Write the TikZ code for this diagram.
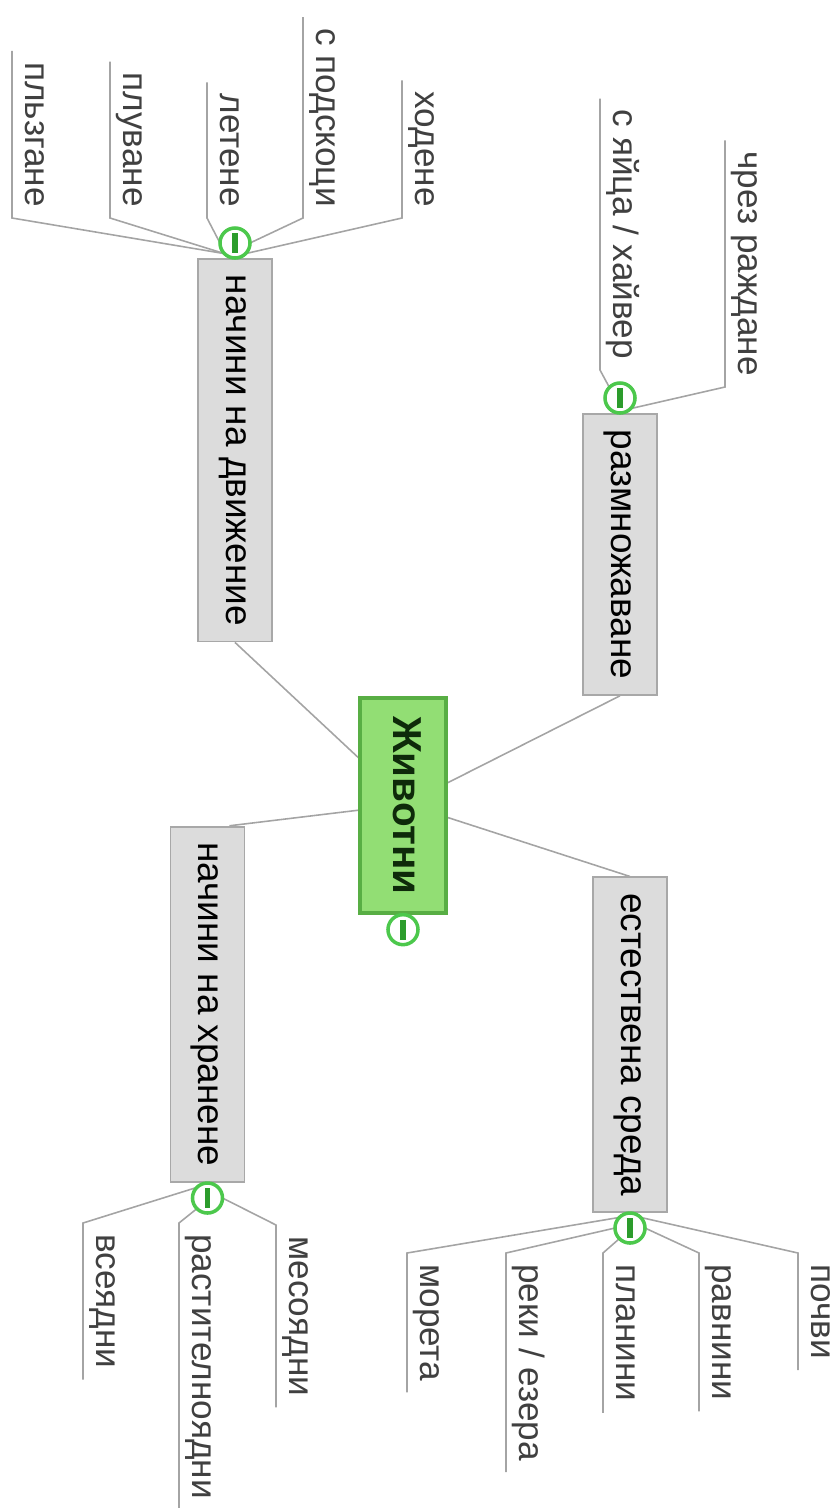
\documentclass[tikz,border=0pt]{standalone}
\usepackage{fontspec}
\setmainfont{Liberation Sans}
\usepackage{graphicx}
\usetikzlibrary{positioning,backgrounds}

\definecolor{boxgray}{HTML}{DCDCDC}
\definecolor{boxedge}{HTML}{A8A8A8}
\definecolor{rootfill}{HTML}{92DE74}
\definecolor{rootedge}{HTML}{58AE44}
\definecolor{roottext}{HTML}{0E2A0A}
\definecolor{linkgray}{HTML}{A4A4A4}
\definecolor{btngreen}{HTML}{4CC84C}
\definecolor{bargreen}{HTML}{2C9C2C}
\definecolor{leaftext}{HTML}{404040}

\newcommand{\vtxt}[1]{\rotatebox{-90}{\strut #1}}

\begin{document}
\begin{tikzpicture}[x=0.01cm, y=-0.01cm,
    root/.style={draw=rootedge, fill=rootfill, line width=0.9pt, minimum width=0.86cm,
        minimum height=2.15cm, inner sep=0pt, text=roottext,
        font=\fontsize{11.5}{13.8}\selectfont\bfseries},
    topic/.style={draw=boxedge, fill=boxgray, line width=0.5pt, minimum width=0.74cm,
        inner xsep=0pt, inner ysep=4.5pt, font=\fontsize{10.5}{12.6}\selectfont},
    leaf/.style={inner xsep=0pt, inner ysep=3pt, text=leaftext, font=\fontsize{10}{12}\selectfont},
    link/.style={draw=linkgray, line width=0.45pt},
    btn/.style={circle, draw=btngreen, fill=white, line width=1pt, minimum size=0.3cm,
        inner sep=0pt, outer sep=0pt,
        path picture={\draw[bargreen, line width=1.5pt]
            (path picture bounding box.center) +(0,-10) -- +(0,10);}}
]
    \useasboundingbox (0,0) rectangle (838,1508);

    % centre and main topics
    \node[root] (animals) at (403,805.5) {\vtxt{Животни}};
    \node[btn, below=0pt of animals] (animalsbtn) {};

    \node[topic, anchor=north] (move) at (235,258) {\vtxt{начини на движение}};
    \node[btn, above=0pt of move] (movebtn) {};

    \node[topic, anchor=north] (breed) at (620,413) {\vtxt{размножаване}};
    \node[btn, above=0pt of breed] (breedbtn) {};

    \node[topic, anchor=south] (feed) at (207.5,1183) {\vtxt{начини на хранене}};
    \node[btn, below=0pt of feed] (feedbtn) {};

    \node[topic, anchor=south] (habitat) at (630,1213) {\vtxt{естествена среда}};
    \node[btn, below=0pt of habitat] (habitatbtn) {};

    % leaves
    \node[leaf, anchor=south west] (glide) at (12,218) {\vtxt{пльзгане}};
    \node[leaf, anchor=south west] (swim) at (110,218) {\vtxt{плуване}};
    \node[leaf, anchor=south west] (fly) at (207,218) {\vtxt{летене}};
    \node[leaf, anchor=south west] (hop) at (303,218) {\vtxt{с подскоци}};
    \node[leaf, anchor=south west] (walk) at (402,218) {\vtxt{ходене}};

    \node[leaf, anchor=south west] (eggs) at (600,370) {\vtxt{с яйца / хайвер}};
    \node[leaf, anchor=south west] (birth) at (725,387) {\vtxt{чрез раждане}};

    \node[leaf, anchor=north west] (omni) at (83,1223) {\vtxt{всеядни}};
    \node[leaf, anchor=north west] (herb) at (179,1223) {\vtxt{растителноядни}};
    \node[leaf, anchor=north west] (carn) at (276,1225) {\vtxt{месоядни}};

    \node[leaf, anchor=north west] (seas) at (407,1253) {\vtxt{морета}};
    \node[leaf, anchor=north west] (rivers) at (506,1253) {\vtxt{реки / езера}};
    \node[leaf, anchor=north west] (hills) at (603,1253) {\vtxt{планини}};
    \node[leaf, anchor=north west] (plains) at (699,1253) {\vtxt{равнини}};
    \node[leaf, anchor=north west] (soils) at (798,1253) {\vtxt{почви}};

    \begin{pgfonlayer}{background}
        \path[link]
        (animals.133) edge (move.south)
        (animals.27) edge (breed.south)
        (animals.186) edge (feed.83)
        (animals.-15) edge (habitat.north);

        \draw[link] (glide.north west) -- (glide.south west) -- (movebtn.south west);
        \draw[link] (swim.north west) -- (swim.south west) -- (movebtn.south west);
        \draw[link] (fly.north west) -- (fly.south west) -- (movebtn.west);
        \draw[link] (hop.north west) -- (hop.south west) -- (movebtn.east);
        \draw[link] (walk.north west) -- (walk.south west) -- (movebtn.south east);

        \draw[link] (eggs.north west) -- (eggs.south west) -- (breedbtn.north west);
        \draw[link] (birth.north west) -- (birth.south west) -- (breedbtn.south east);

        \draw[link] (omni.south west) -- (omni.north west) -- (feedbtn.north west);
        \draw[link] (herb.south west) -- (herb.north west) -- (feedbtn.south west);
        \draw[link] (carn.south west) -- (carn.north west) -- (feedbtn.east);

        \draw[link] (seas.south west) -- (seas.north west) -- (habitatbtn.north west);
        \draw[link] (rivers.south west) -- (rivers.north west) -- (habitatbtn.west);
        \draw[link] (hills.south west) -- (hills.north west) -- (habitatbtn.south west);
        \draw[link] (plains.south west) -- (plains.north west) -- (habitatbtn.east);
        \draw[link] (soils.south west) -- (soils.north west) -- (habitatbtn.north east);
    \end{pgfonlayer}
\end{tikzpicture}
\end{document}
